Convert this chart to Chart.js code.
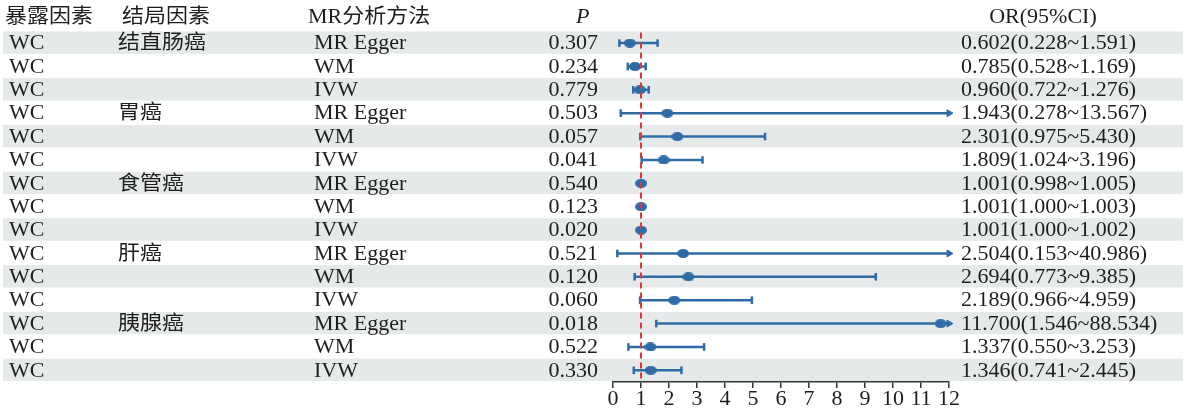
<!DOCTYPE html>
<html>
<head>
<meta charset="utf-8">
<script src="https://cdn.jsdelivr.net/npm/chart.js@4/dist/chart.umd.min.js"></script>
<style>
  body { margin: 0; background: #fff; }
  canvas { display: block; }
</style>
</head>
<body>
<canvas id="forest" width="1191" height="410"></canvas>
<script>
const exposures = ["WC", "WC", "WC", "WC", "WC", "WC", "WC", "WC", "WC", "WC", "WC", "WC", "WC", "WC", "WC"];
const outcomes = ["结直肠癌", "", "", "胃癌", "", "", "食管癌", "", "", "肝癌", "", "", "胰腺癌", "", ""];
const methods = ["MR Egger", "WM", "IVW", "MR Egger", "WM", "IVW", "MR Egger", "WM", "IVW",
  "MR Egger", "WM", "IVW", "MR Egger", "WM", "IVW"];
const pValues = [0.307, 0.234, 0.779, 0.503, 0.057, 0.041, 0.540, 0.123, 0.020, 0.521, 0.120, 0.060, 0.018, 0.522, 0.330];
const orValues = [0.602, 0.785, 0.960, 1.943, 2.301, 1.809, 1.001, 1.001, 1.001, 2.504, 2.694, 2.189, 11.700, 1.337, 1.346];
const lower = [0.228, 0.528, 0.722, 0.278, 0.975, 1.024, 0.998, 1.000, 1.000, 0.153, 0.773, 0.966, 1.546, 0.550, 0.741];
const upper = [1.591, 1.169, 1.276, 13.567, 5.430, 3.196, 1.005, 1.003, 1.002, 40.986, 9.385, 4.959, 88.534, 3.253, 2.445];
const headers = ["暴露因素", "结局因素", "MR分析方法", "P", "OR(95%CI)"];
const xMin = 0;
const xMax = 12;
const refLine = 1;

const BLUE = "#2f6ca5";
const RED = "#e3343e";
const STRIPE = "#e6e9e9";
const INK = "#1e1e1e";
const FONT = '20px "Liberation Serif", "Noto Sans CJK SC", serif';

// ellipse marker for the point estimates
function ellipseMarker() {
  const c = document.createElement("canvas");
  c.width = 12;
  c.height = 9;
  const g = c.getContext("2d");
  g.fillStyle = BLUE;
  g.beginPath();
  g.ellipse(6, 4.5, 6, 4.5, 0, 0, Math.PI * 2);
  g.fill();
  return c;
}
const marker = ellipseMarker();

function txt(ctx, s, x, y, align) {
  ctx.save();
  ctx.translate(x, y);
  ctx.scale(1.1, 1);
  ctx.textAlign = align || "left";
  ctx.fillText(s, 0, 0);
  ctx.restore();
}

const tablePlugin = {
  id: "table",
  beforeDraw(chart) {
    const ctx = chart.ctx;
    const y = chart.scales.y;
    const h = Math.abs(y.getPixelForValue(1) - y.getPixelForValue(0));
    ctx.save();
    ctx.fillStyle = "#fff";
    ctx.fillRect(0, 0, chart.width, chart.height);
    ctx.fillStyle = STRIPE;
    methods.forEach((m, i) => {
      if (i % 2 === 0) {
        const cy = y.getPixelForValue(i);
        ctx.fillRect(3, cy - h / 2, 1180, h - 1);
      }
    });
    ctx.restore();
  },
  afterDraw(chart) {
    const ctx = chart.ctx;
    const y = chart.scales.y;
    ctx.save();
    ctx.fillStyle = INK;
    ctx.font = FONT;
    ctx.textBaseline = "middle";
    const hy = 18;
    txt(ctx, headers[0], 5, hy);
    txt(ctx, headers[1], 122, hy);
    txt(ctx, headers[2], 308, hy);
    ctx.font = 'italic 20px "Liberation Serif", serif';
    txt(ctx, headers[3], 576, hy);
    ctx.font = FONT;
    txt(ctx, headers[4], 1043, hy, "center");
    methods.forEach((m, i) => {
      const cy = y.getPixelForValue(i) + 1;
      txt(ctx, exposures[i], 9, cy);
      txt(ctx, outcomes[i], 118, cy);
      txt(ctx, m, 314, cy);
      txt(ctx, pValues[i].toFixed(3), 598, cy, "right");
      txt(ctx, orValues[i].toFixed(3) + "(" + lower[i].toFixed(3) + "~" + upper[i].toFixed(3) + ")", 961, cy);
    });
    ctx.restore();
  }
};

// one line per confidence interval, arrow when it runs past the axis
const ciSets = methods.map((m, i) => {
  const over = upper[i] > xMax;
  return {
    type: "line",
    data: [{ x: lower[i], y: i }, { x: Math.min(upper[i], xMax), y: i }],
    borderColor: BLUE,
    borderWidth: 2.5,
    pointStyle: ["line", over ? "triangle" : "line"],
    pointRadius: [3.8, over ? 4 : 3.8],
    pointRotation: 90,
    pointBorderWidth: [2.5, over ? 1 : 2.5],
    pointBorderColor: BLUE,
    pointBackgroundColor: BLUE,
    clip: false,
    order: 3
  };
});

const pointSet = {
  type: "scatter",
  data: orValues.map((v, i) => ({ x: v, y: i })),
  pointStyle: marker,
  pointRadius: 6,
  clip: false,
  order: 2
};

const refSet = {
  type: "line",
  data: [{ x: refLine, y: -0.45 }, { x: refLine, y: methods.length - 0.55 }],
  borderColor: RED,
  borderWidth: 2,
  borderDash: [6, 4],
  pointRadius: 0,
  clip: false,
  order: 1
};

new Chart(document.getElementById("forest"), {
  type: "scatter",
  data: { datasets: [...ciSets, pointSet, refSet] },
  options: {
    responsive: false,
    animation: false,
    layout: { padding: { left: 613, right: 242, top: 31.4, bottom: 0 } },
    plugins: { legend: { display: false }, tooltip: { enabled: false } },
    scales: {
      x: {
        type: "linear",
        min: xMin,
        max: xMax,
        ticks: {
          stepSize: 1,
          autoSkip: false,
          maxRotation: 0,
          padding: 0,
          color: INK,
          font: { family: '"Liberation Serif", serif', size: 22, lineHeight: 1 }
        },
        grid: { drawOnChartArea: false, drawTicks: true, tickLength: 6, color: "#333", lineWidth: 1.5 },
        border: { display: true, color: "#333", width: 1.5 }
      },
      y: {
        type: "linear",
        display: false,
        reverse: true,
        min: -0.5,
        max: methods.length - 0.5
      }
    }
  },
  plugins: [tablePlugin]
});
</script>
</body>
</html>
